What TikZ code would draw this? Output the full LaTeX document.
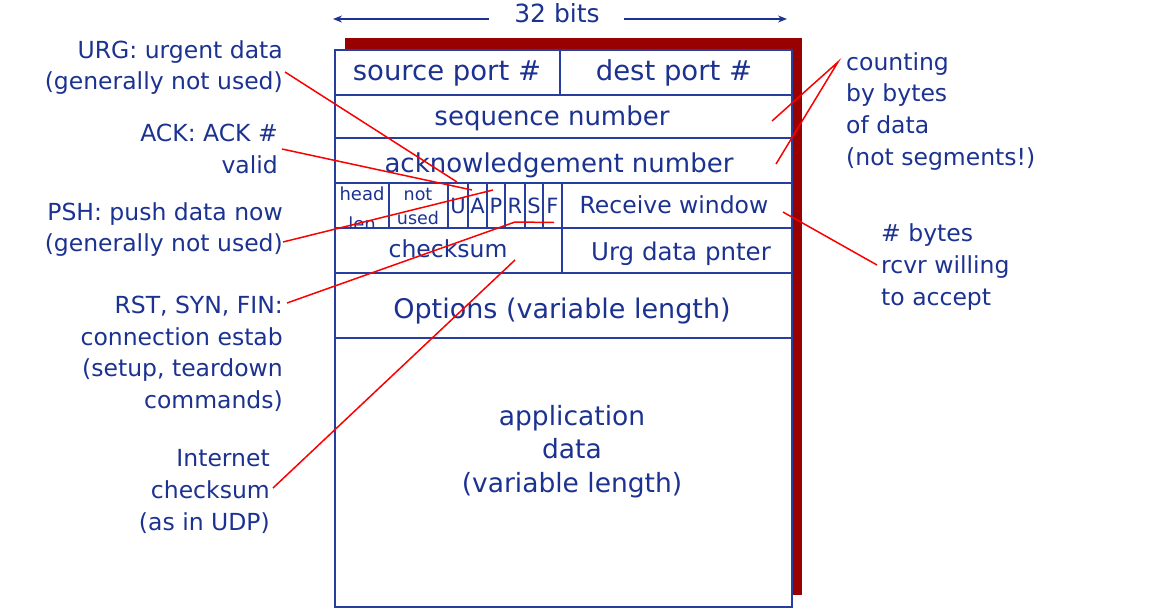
\documentclass[tikz,border=0pt]{standalone}
\usepackage{fontspec}
\setmainfont{DejaVu Sans}
\usetikzlibrary{arrows.meta}
\definecolor{tblue}{RGB}{28,50,145}
\definecolor{lblue}{RGB}{40,62,158}
\definecolor{shadowred}{RGB}{153,0,0}
\definecolor{callred}{RGB}{250,0,0}
\begin{document}
\begin{tikzpicture}[x=1pt,y=-1pt,
  lbl/.style={font=\fontsize{23.5}{31.7}\selectfont, text=tblue, inner sep=0pt, align=right, anchor=base east},
  rlbl/.style={font=\fontsize{23.5}{31.7}\selectfont, text=tblue, inner sep=0pt, align=left, anchor=base west},
  fld/.style={text=tblue, inner sep=0pt, anchor=base},
  cell/.style={draw=lblue, line width=2pt},
  call/.style={draw=callred, line width=1.5pt},
  bitarrow/.style={draw=tblue, line width=1.5pt, -{Stealth[length=9pt,width=7pt]}}]
\useasboundingbox (0,0) rectangle (1165,611);
% shadow and frame
\fill[shadowred] (345,38) rectangle (802,595);
\filldraw[fill=white, draw=lblue, line width=2pt] (335,50) rectangle (792,607);
% horizontal lines
\foreach \yy in {95,138,183,228,273,338} \draw[cell] (335,\yy) -- (792,\yy);
% vertical lines
\draw[cell] (560,50) -- (560,95);
\foreach \xx in {389,448,468,487,505,525,543,562} \draw[cell] (\xx,183) -- (\xx,228);
\draw[cell] (562,228) -- (562,273);
% 32 bits
\node[fld, font=\fontsize{25}{30}\selectfont] (bits) at (557,22) {32 bits};
\coordinate (bitsL) at (489,19);
\coordinate (bitsLend) at (333,19);
\coordinate (bitsR) at (624,19);
\coordinate (bitsRend) at (787,19);
\draw[bitarrow] (bitsL) -- (bitsLend);
\draw[bitarrow] (bitsR) -- (bitsRend);
% field texts
\node[fld, font=\fontsize{27.5}{30}\selectfont] (src) at (447,80) {source port \#};
\node[fld, font=\fontsize{27.5}{30}\selectfont] (dst) at (674,80) {dest port \#};
\node[fld, font=\fontsize{26}{30}\selectfont] (seq) at (552,125) {sequence number};
\node[fld, font=\fontsize{26}{30}\selectfont] (ackn) at (559,172) {acknowledgement number};
\node[fld, font=\fontsize{18}{20}\selectfont] (head) at (362,200) {head};
\begin{scope}
\clip (336,184) rectangle (388,227);
\node[fld, font=\fontsize{18}{20}\selectfont] (len) at (362,230) {len};
\end{scope}
\node[fld, font=\fontsize{17.5}{20}\selectfont] (notf) at (418,200) {not};
\node[fld, font=\fontsize{17.5}{20}\selectfont] (used) at (418,224) {used};
\node[fld, font=\fontsize{21}{24}\selectfont] (fU) at (458,213) {U};
\node[fld, font=\fontsize{21}{24}\selectfont] (fA) at (477.5,213) {A};
\node[fld, font=\fontsize{21}{24}\selectfont] (fP) at (496,213) {P};
\node[fld, font=\fontsize{21}{24}\selectfont] (fR) at (515,213) {R};
\node[fld, font=\fontsize{21}{24}\selectfont] (fS) at (534,213) {S};
\node[fld, font=\fontsize{21}{24}\selectfont] (fF) at (552.5,213) {F};
\node[fld, font=\fontsize{23.5}{30}\selectfont] (rwin) at (674,213) {Receive window};
\node[fld, font=\fontsize{23.5}{30}\selectfont] (chk) at (448,257) {checksum};
\node[fld, font=\fontsize{24.5}{30}\selectfont] (urgp) at (681,260) {Urg data pnter};
\node[fld, font=\fontsize{27}{30}\selectfont] (opts) at (562,318) {Options (variable length)};
\node[fld, font=\fontsize{26.5}{33.5}\selectfont, align=center] (app) at (572,492) {application\\data\\(variable length)};
% left labels (anchor = baseline of last line)
\node[lbl] (urg) at (283,89.7) {URG: urgent data\\(generally not used)};
\node[lbl] (ack) at (278,173.4) {ACK: ACK \#\\valid};
\node[lbl] (psh) at (283,251.7) {PSH: push data now\\(generally not used)};
\node[lbl] (rst) at (283,408.4) {RST, SYN, FIN:\\connection estab\\(setup, teardown\\commands)};
\node[lbl] (inet) at (270,530.1) {Internet\\checksum\\(as in UDP)};
% right labels
\node[rlbl] (cnt) at (846,165.1) {counting\\by bytes\\of data\\(not segments!)};
\node[rlbl] (rcv) at (881,305.1) {\# bytes\\rcvr willing\\to accept};
% callout lines
\coordinate (urgS) at (285,72);
\coordinate (urgE) at (457,182);
\coordinate (ackS) at (282,149);
\coordinate (ackE) at (472,190);
\coordinate (pshS) at (283,242);
\coordinate (pshE) at (493,190);
\coordinate (rstS) at (287,303);
\coordinate (rstM) at (515,222);
\coordinate (rstE) at (554,222.5);
\coordinate (inetS) at (273,488);
\coordinate (inetE) at (515,260);
\coordinate (cntS) at (838,62);
\coordinate (cntE1) at (772,121);
\coordinate (cntE2) at (776,164);
\coordinate (rcvS) at (877,265);
\coordinate (rcvE) at (783,212);
\draw[call] (urgS) -- (urgE);
\draw[call] (ackS) -- (ackE);
\draw[call] (pshS) -- (pshE);
\draw[call] (rstS) -- (rstM) -- (rstE);
\draw[call] (inetS) -- (inetE);
\draw[call] (cntE1) -- (cntS) -- (cntE2);
\draw[call] (rcvS) -- (rcvE);
\end{tikzpicture}
\end{document}
